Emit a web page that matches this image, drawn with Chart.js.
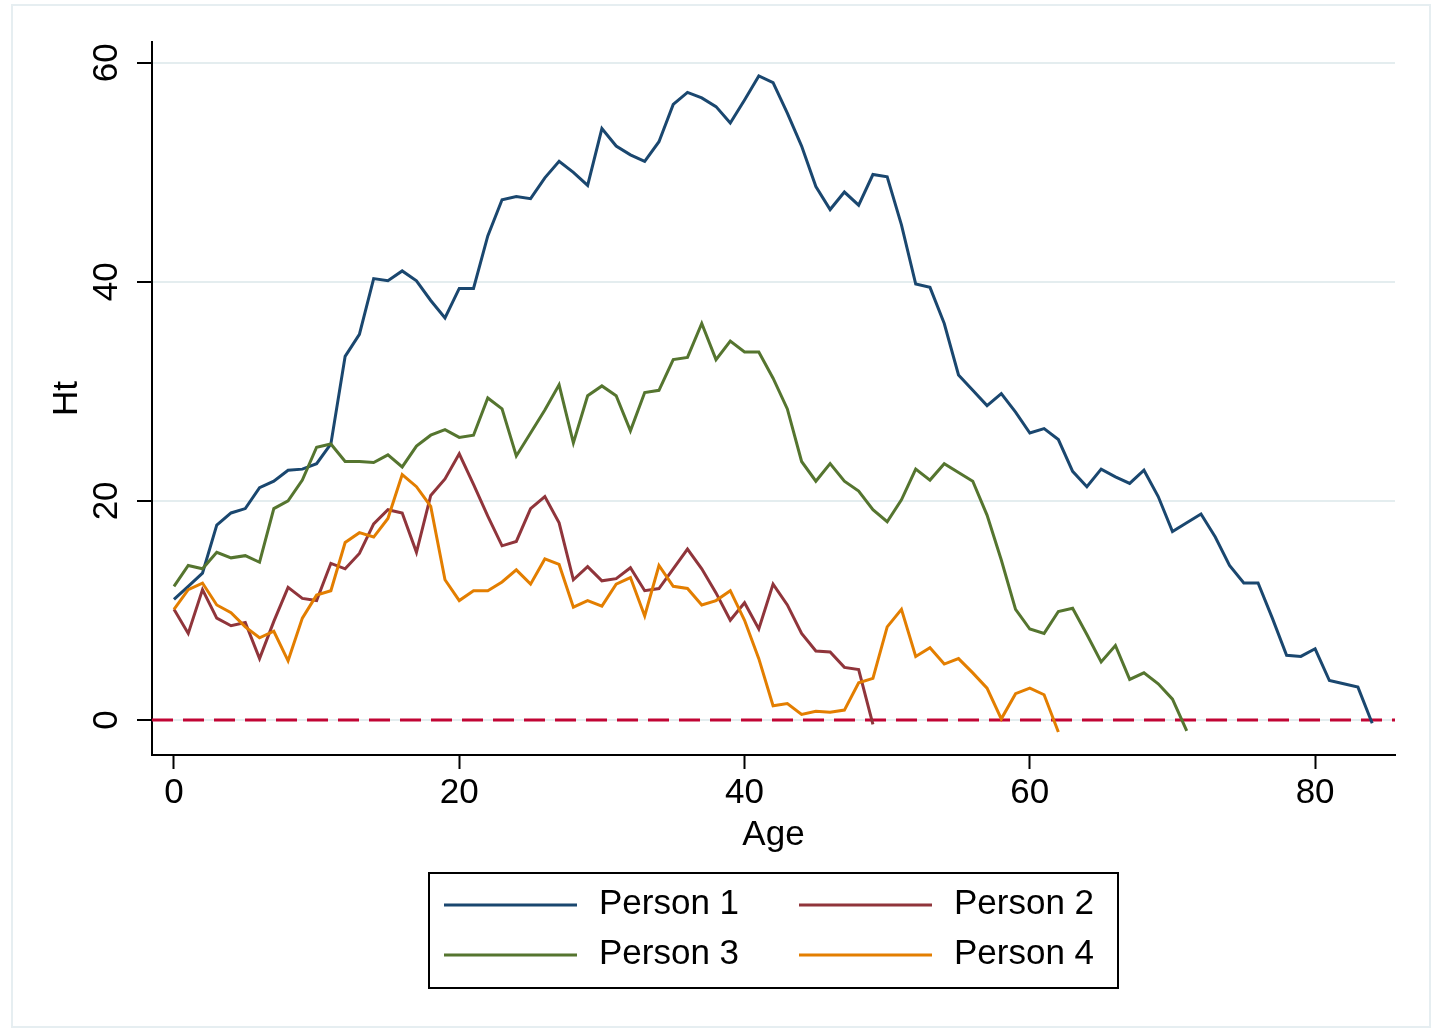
<!DOCTYPE html>
<html>
<head>
<meta charset="utf-8">
<script src="https://cdn.jsdelivr.net/npm/chart.js@4.4.1/dist/chart.umd.min.js"></script>
<style>
  html, body { margin: 0; padding: 0; background: #ffffff; }
  #wrap { width: 1440px; height: 1031px; }
</style>
</head>
<body>
<div id="wrap"><canvas id="htChart" width="1440" height="1031"></canvas></div>
<script>
// Datos (Ht por edad)
var ages = [0,1,2,3,4,5,6,7,8,9,10,11,12,13,14,15,16,17,18,19,20,21,22,23,24,25,26,27,28,29,
  30,31,32,33,34,35,36,37,38,39,40,41,42,43,44,45,46,47,48,49,50,51,52,53,54,55,56,57,58,59,
  60,61,62,63,64,65,66,67,68,69,70,71,72,73,74,75,76,77,78,79,80,81,82,83,84];

var person1 = [11.0,12.2,13.4,17.8,18.9,19.3,21.2,21.8,22.8,22.9,23.4,25.2,33.2,35.2,40.3,40.1,41.0,40.1,38.3,36.7,
  39.4,39.4,44.2,47.5,47.8,47.6,49.5,51.0,50.0,48.8,54.0,52.4,51.6,51.0,52.8,56.2,57.3,56.8,56.0,54.5,
  56.6,58.8,58.2,55.4,52.4,48.7,46.6,48.2,47.0,49.8,49.6,45.2,39.8,39.5,36.2,31.5,30.1,28.7,29.8,28.1,
  26.2,26.6,25.6,22.7,21.3,22.9,22.2,21.6,22.8,20.4,17.2,18.0,18.8,16.7,14.1,12.5,12.5,9.3,5.9,5.8,
  6.5,3.6,3.3,3.0,-0.3];

var person2 = [10.1,7.9,11.9,9.3,8.6,8.9,5.6,9.0,12.1,11.1,10.9,14.3,13.8,15.2,17.9,19.2,18.9,15.3,20.5,22.0,
  24.3,21.5,18.6,15.9,16.3,19.3,20.4,18.0,12.8,14.0,12.7,12.9,13.9,11.8,12.0,13.8,15.6,13.8,11.6,9.1,
  10.7,8.3,12.4,10.5,7.9,6.3,6.2,4.8,4.6,-0.4];

var person3 = [12.2,14.1,13.8,15.3,14.8,15.0,14.4,19.3,20.0,21.9,24.9,25.2,23.6,23.6,23.5,24.2,23.1,25.0,26.0,26.5,
  25.8,26.0,29.4,28.4,24.1,26.2,28.3,30.6,25.3,29.6,30.5,29.6,26.4,29.9,30.1,32.9,33.1,36.2,32.9,34.6,
  33.6,33.6,31.2,28.4,23.6,21.8,23.4,21.8,20.9,19.2,18.1,20.1,22.9,21.9,23.4,22.6,21.8,18.7,14.6,10.1,
  8.3,7.9,9.9,10.2,7.8,5.3,6.8,3.7,4.3,3.3,1.9,-1.0];

var person4 = [10.1,11.9,12.5,10.5,9.8,8.5,7.5,8.1,5.4,9.3,11.4,11.8,16.2,17.1,16.7,18.4,22.4,21.3,19.5,12.8,
  10.9,11.8,11.8,12.6,13.7,12.4,14.7,14.2,10.3,10.9,10.4,12.4,13.0,9.5,14.1,12.2,12.0,10.5,10.9,11.8,
  9.1,5.6,1.3,1.5,0.5,0.8,0.7,0.9,3.4,3.8,8.5,10.1,5.8,6.6,5.1,5.6,4.3,2.9,0.1,2.4,
  2.9,2.3,-1.1];

var seriesNames = ['Person 1', 'Person 2', 'Person 3', 'Person 4'];
var seriesColors = ['#1a476f', '#90353b', '#55752f', '#e37e00'];
var xTicks = [0, 20, 40, 60, 80];
var yTicks = [0, 20, 40, 60];
var refLineValue = 0;

var FONT = '"Liberation Sans", Arial, Helvetica, sans-serif';

// Convierte una serie en puntos {x, y}
function toPoints(values) {
    return values.map(function(v, i) { return { x: ages[i], y: v }; });
}

var allSeries = [person1, person2, person3, person4];

// Plugin para el fondo, textos, línea de referencia y leyenda al estilo Stata
var stataPlugin = {
    id: 'stataLook',
    beforeDraw: function(chart) {
        var ctx = chart.ctx;
        ctx.save();
        ctx.fillStyle = '#ffffff';
        ctx.fillRect(0, 0, chart.width, chart.height);
        // marco exterior
        ctx.strokeStyle = '#e6eef1';
        ctx.lineWidth = 2;
        ctx.strokeRect(12, 5, 1418, 1022);
        ctx.restore();
    },
    beforeDatasetsDraw: function(chart) {
        var ctx = chart.ctx;
        var area = chart.chartArea;
        var y0 = chart.scales.y.getPixelForValue(refLineValue);
        ctx.save();
        ctx.strokeStyle = '#c10534';
        ctx.lineWidth = 3;
        ctx.setLineDash([21, 10]);
        ctx.beginPath();
        ctx.moveTo(area.left, y0);
        ctx.lineTo(area.right, y0);
        ctx.stroke();
        ctx.restore();
    },
    afterDraw: function(chart) {
        var ctx = chart.ctx;
        var area = chart.chartArea;
        var xs = chart.scales.x;
        var ys = chart.scales.y;
        ctx.save();
        ctx.fillStyle = '#000000';
        ctx.font = '35px ' + FONT;

        // etiquetas del eje x
        ctx.textAlign = 'center';
        ctx.textBaseline = 'alphabetic';
        xTicks.forEach(function(v) {
            ctx.fillText(String(v), xs.getPixelForValue(v), 803);
        });

        // etiquetas del eje y (giradas)
        yTicks.forEach(function(v) {
            ctx.save();
            ctx.translate(117, ys.getPixelForValue(v));
            ctx.rotate(-Math.PI / 2);
            ctx.fillText(String(v), 0, 0);
            ctx.restore();
        });

        // títulos de los ejes
        ctx.fillText('Age', (area.left + area.right) / 2, 845);
        ctx.save();
        ctx.translate(77, (area.top + area.bottom) / 2);
        ctx.rotate(-Math.PI / 2);
        ctx.fillText('Ht', 0, 0);
        ctx.restore();

        // leyenda
        ctx.strokeStyle = '#000000';
        ctx.lineWidth = 2;
        ctx.strokeRect(429, 873, 689, 115);
        ctx.font = '35px ' + FONT;
        ctx.textAlign = 'left';
        var colX = [444, 799];
        var rowY = [905, 955];
        chart.data.datasets.forEach(function(ds, i) {
            var cx = colX[i % 2];
            var cy = rowY[Math.floor(i / 2)];
            ctx.strokeStyle = ds.borderColor;
            ctx.lineWidth = 3;
            ctx.beginPath();
            ctx.moveTo(cx, cy);
            ctx.lineTo(cx + 133, cy);
            ctx.stroke();
            ctx.fillStyle = '#000000';
            ctx.fillText(ds.label, cx + 155, cy + 9);
        });
        ctx.restore();
    }
};

var ctx = document.getElementById('htChart').getContext('2d');
var htChart = new Chart(ctx, {
    type: 'line',
    data: {
        datasets: allSeries.map(function(values, i) {
            return {
                label: seriesNames[i],
                data: toPoints(values),
                borderColor: seriesColors[i],
                backgroundColor: seriesColors[i],
                borderWidth: 3,
                pointRadius: 0,
                tension: 0,
                fill: false,
                order: allSeries.length - i
            };
        })
    },
    options: {
        responsive: false,
        animation: false,
        layout: { padding: { left: 0, top: 42, right: 45, bottom: 0 } },
        plugins: {
            legend: { display: false },
            title: { display: false },
            tooltip: { enabled: false }
        },
        scales: {
            x: {
                type: 'linear',
                min: -1.54,
                max: 85.6,
                afterBuildTicks: function(scale) {
                    scale.ticks = xTicks.map(function(v) { return { value: v }; });
                },
                afterFit: function(scale) { scale.height = 1031 - 755; },
                ticks: { display: false },
                grid: {
                    drawOnChartArea: false,
                    drawTicks: true,
                    tickLength: 14,
                    tickWidth: 2,
                    tickColor: '#000000'
                },
                border: { display: true, color: '#000000', width: 2 }
            },
            y: {
                type: 'linear',
                min: -3.2,
                max: 61.9,
                afterBuildTicks: function(scale) {
                    scale.ticks = yTicks.map(function(v) { return { value: v }; });
                },
                afterFit: function(scale) { scale.width = 152; },
                ticks: { display: false },
                grid: {
                    drawOnChartArea: true,
                    color: '#e4edef',
                    lineWidth: 2,
                    drawTicks: true,
                    tickLength: 15,
                    tickWidth: 2,
                    tickColor: '#000000'
                },
                border: { display: true, color: '#000000', width: 2 }
            }
        }
    },
    plugins: [stataPlugin]
});
</script>
</body>
</html>
